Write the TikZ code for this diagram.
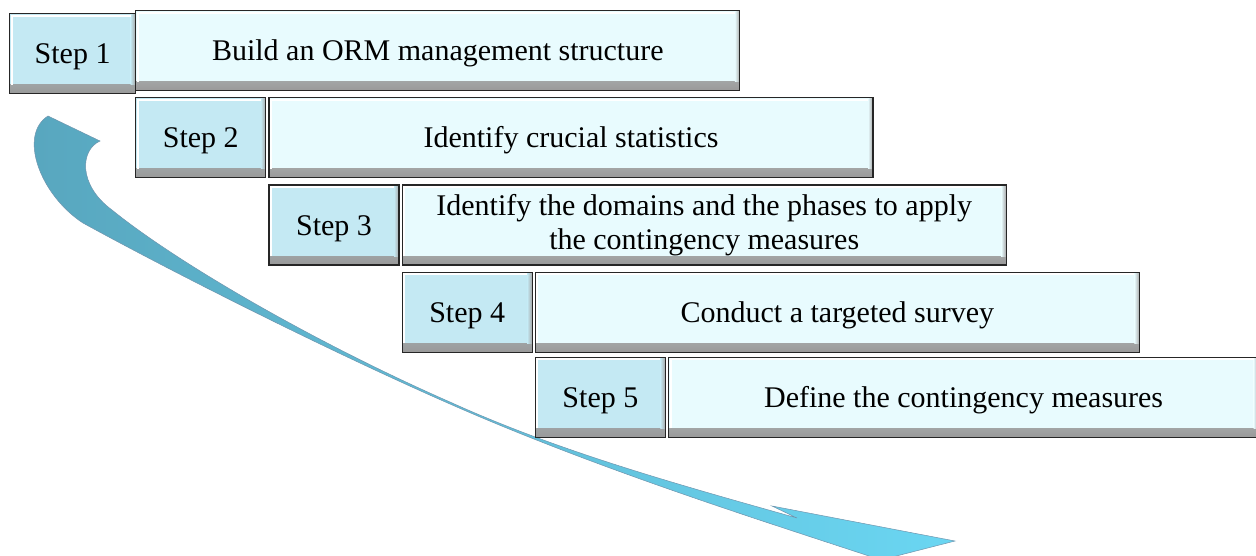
\documentclass[tikz,border=0pt]{standalone}
\usepackage{fontspec}
\setmainfont{Liberation Serif}
\usepackage{xcolor}
\usepackage{tikz}
\usetikzlibrary{positioning}
\definecolor{stepblue}{HTML}{C4E9F3}
\definecolor{paleblue}{HTML}{E8FBFE}
\definecolor{arrowdark}{HTML}{58A6BE}
\definecolor{arrowlight}{HTML}{6AD6F2}
\definecolor{arrowrim}{HTML}{6F95AE}

\begin{document}
\begin{tikzpicture}[x=1pt, y=-1pt, font=\fontsize{30}{34}\selectfont, every node/.style={align=center},
  bevel/.style={draw=black!85, line width=1.2pt, fill=#1, inner sep=0pt, minimum height=80pt,
    path picture={
      \shade[top color=#1, bottom color=black!40] ([yshift=9pt]path picture bounding box.south west) rectangle (path picture bounding box.south east);
      \shade[left color=#1, right color=black!35] ([xshift=-5pt]path picture bounding box.north east) rectangle ([yshift=9pt]path picture bounding box.south east);
      \draw[white, line width=2pt] ([shift={(2pt,9pt)}]path picture bounding box.south west) |- ([shift={(-5pt,-2pt)}]path picture bounding box.north east);
    }},
  lowtext/.style={text height=22pt, text depth=2pt},
  stepbox/.style={bevel=stepblue, minimum width=130pt, lowtext},
  taskbox/.style={bevel=paleblue, minimum width=604pt}]
\useasboundingbox (0,0) rectangle (1256,555);
% curved arrow behind the steps
\shade[left color=arrowdark, right color=arrowlight, draw=arrowrim, line width=0.5pt]
  (48,116) -- (100,141)
  .. controls (80,150) and (78,185) .. (112,210)
  .. controls (180,265) and (320,345) .. (450,402)
  .. controls (560,452) and (680,485) .. (797,518)
  -- (772,506) -- (955,541) -- (775,587) -- (875,558)
  .. controls (760,520) and (600,470) .. (450,404)
  .. controls (320,347) and (165,268) .. (83,223)
  .. controls (40,195) and (18,135) .. (48,116) -- cycle;
% steps
\node[stepbox, minimum width=126pt, anchor=north west] (s1) at (9,13) {Step 1};
\node[taskbox, lowtext, right=-1pt of s1, yshift=3pt] (t1) {Build an ORM management structure};
\node[stepbox, below right=6pt and 0pt of t1.south west] (s2) {Step 2};
\node[taskbox, lowtext, right=2pt of s2] (t2) {Identify crucial statistics};
\node[stepbox, below right=6pt and 0pt of t2.south west] (s3) {Step 3};
\node[taskbox, right=2pt of s3] (t3) {Identify the domains and the phases to apply\\the contingency measures};
\node[stepbox, below right=6pt and 0pt of t3.south west] (s4) {Step 4};
\node[taskbox, lowtext, right=2pt of s4] (t4) {Conduct a targeted survey};
\node[stepbox, below right=4pt and 0pt of t4.south west] (s5) {Step 5};
\node[taskbox, lowtext, right=2pt of s5, minimum width=590pt] (t5) {Define the contingency measures};
\end{tikzpicture}
\end{document}
